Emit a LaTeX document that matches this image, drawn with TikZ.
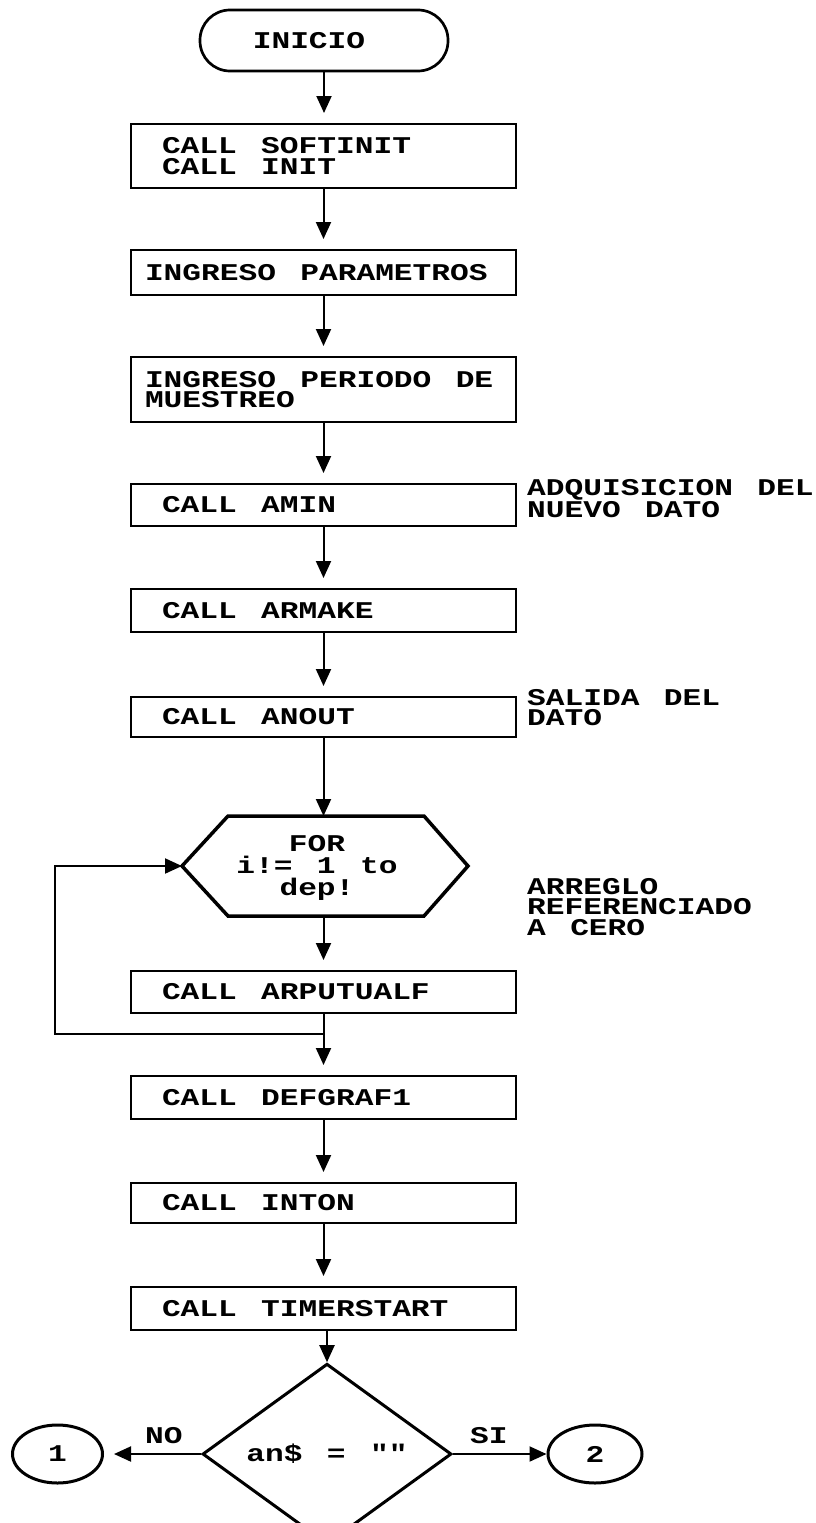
\documentclass[tikz,border=0pt]{standalone}
\usepackage{fontspec}
\newfontfamily\pf[FakeStretch=1.3,WordSpace=1.3]{Liberation Mono}
\usetikzlibrary{arrows.meta,shapes.geometric}
\begin{document}
\begin{tikzpicture}[x=1pt,y=-1pt,
  every node/.style={font=\pf\bfseries\fontsize{24}{20.5}\selectfont},
  proc/.style={draw, line width=2pt, minimum width=385pt, inner ysep=0pt, align=left,
    execute at begin node={\spaceskip=0pt \xspaceskip=0pt }},
  callbox/.style={proc, inner xsep=31pt, text width=323pt},
  ingbox/.style={proc, inner xsep=14pt, text width=357pt},
  lbl/.style={inner sep=0pt, align=left, anchor=north west},
  arr/.style={-{Triangle[length=17pt,width=15pt]}, line width=2pt},
  tobox/.style={arr, shorten >=10pt},
  conn/.style={line width=2pt}
]
\useasboundingbox (0,0) rectangle (815,1523);

\node[draw, line width=2.7pt, rounded corners=30pt, minimum width=248pt, minimum height=61pt, inner sep=0pt] (start) at (324,40.5) {INICIO\hspace*{30pt}};

\node[callbox, minimum height=64pt] (b1) at (323.5,156) {CALL SOFTINIT\\CALL INIT};
\node[ingbox, minimum height=45pt] (b2) at (323.5,272.5) {INGRESO PARAMETROS};
\node[ingbox, minimum height=65pt] (b3) at (323.5,389.5) {INGRESO PERIODO DE\\MUESTREO};
\node[callbox, minimum height=42pt] (b4) at (323.5,505) {CALL AMIN};
\node[callbox, minimum height=43pt] (b5) at (323.5,610.5) {CALL ARMAKE};
\node[callbox, minimum height=40pt] (b6) at (323.5,717) {CALL ANOUT};

% hexagon
\coordinate (hexT) at (323.5,816);
\coordinate (hexB) at (323.5,916);
\coordinate (hexL) at (182,866);
\draw[line width=3.5pt, line join=miter] (hexL) -- (228,816) -- (424,816) -- (468,866) -- (424,916) -- (228,916) -- cycle;
\node[inner sep=0pt, align=center, font=\pf\bfseries\fontsize{24}{22}\selectfont] (hex) at (317,868) {FOR\\i!= 1 to\\dep!};

\node[callbox, minimum height=42pt] (b7) at (323.5,992) {CALL ARPUTUALF};
\node[callbox, minimum height=43pt] (b8) at (323.5,1097.5) {CALL DEFGRAF1};
\node[callbox, minimum height=40pt] (b9) at (323.5,1203) {CALL INTON};
\node[callbox, minimum height=43pt] (b10) at (323.5,1308.5) {CALL TIMERSTART};

\node[diamond, draw, line width=3pt, minimum width=249pt, minimum height=136pt, inner sep=0pt] (dec) at (327,1454) {an\$ = ""};

\node[ellipse, draw, line width=3pt, minimum width=90pt, minimum height=58pt, inner sep=0pt] (c1) at (57.5,1454) {1};
\node[ellipse, draw, line width=3pt, minimum width=94pt, minimum height=58pt, inner sep=0pt] (c2) at (595,1454) {2};

% side labels
\node[lbl] (l1) at (527,479) {ADQUISICION DEL\\NUEVO DATO};
\node[lbl] (l2) at (527,689) {SALIDA DEL\\DATO};
\node[lbl] (l3) at (527,878) {ARREGLO\\REFERENCIADO\\A CERO};
\node[inner sep=0pt, anchor=base west] (lno) at (145,1443) {NO};
\node[inner sep=0pt, anchor=base west] (lsi) at (470,1443) {SI};

% connectors
\draw[tobox] (start.south) -- (start.south |- b1.north);
\draw[tobox] (b1.south) -- (b2.north);
\draw[tobox] (b2.south) -- (b3.north);
\draw[tobox] (b3.south) -- (b4.north);
\draw[tobox] (b4.south) -- (b5.north);
\draw[tobox] (b5.south) -- (b6.north);
\draw[arr] (b6.south) -- (hexT);
\draw[tobox] (hexB) -- (b7.north);
\coordinate (j) at (323.5,1034);
\coordinate (lpb) at (55,1034);
\coordinate (lpt) at (55,866);
\draw[conn] (b7.south) -- (j);
\draw[arr] (j) -- (lpb) -- (lpt) -- (hexL);
\draw[tobox] (j) -- (b8.north);
\draw[tobox] (b8.south) -- (b9.north);
\draw[tobox] (b9.south) -- (b10.north);
\draw[arr] (b10.south -| dec.north) -- (dec.north);
\draw[tobox] (dec.west) -- (c1.east);
\draw[arr] (dec.east) -- (c2.west);
\end{tikzpicture}
\end{document}
